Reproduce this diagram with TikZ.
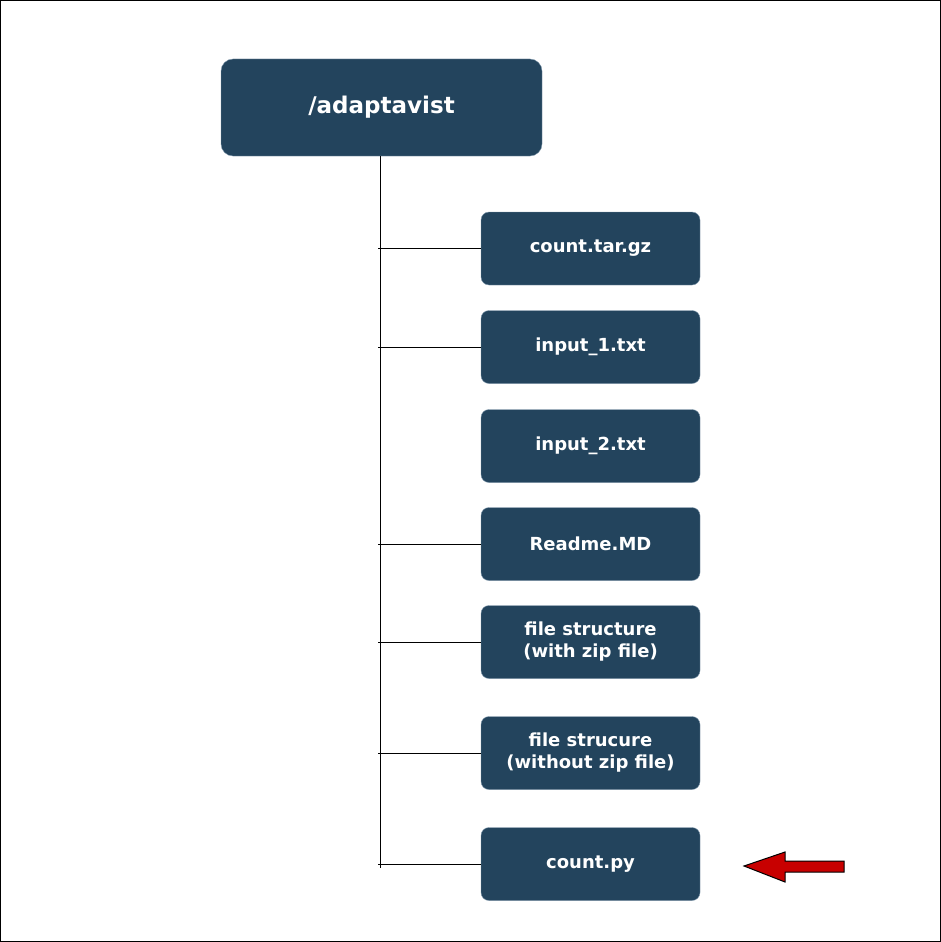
\documentclass[tikz,border=0pt]{standalone}
\usepackage{fontspec}
\setmainfont{DejaVu Sans}
\definecolor{boxblue}{HTML}{23445D}
\definecolor{boxedge}{HTML}{7E97AB}
\definecolor{arrowred}{HTML}{C80000}
\tikzset{
  filebox/.style={draw=boxedge, fill=boxblue, rounded corners=8pt, minimum width=219pt, minimum height=73pt, align=center, text=white, font=\fontsize{18}{22}\selectfont\bfseries, inner sep=0pt},
  rootbox/.style={filebox, rounded corners=12pt, minimum width=321pt, minimum height=97pt, font=\fontsize{23}{27}\selectfont\bfseries},
  branch/.style={draw=black, line width=0.8pt}
}
\begin{document}
\begin{tikzpicture}[x=1pt, y=-1pt]
    % frame
    \draw [line width=0.8pt] (0.5, 0.5) rectangle (940.5, 941.5);
    \useasboundingbox (0, 0) rectangle (941, 942);
    % root folder
    \node [rootbox] (root) at (381.5, 107.5) {/adaptavist};
    % files
    \node [filebox] (tar) at (590.5, 248.5) {count.tar.gz};
    \node [filebox] (inone) at (590.5, 347) {input\_1.txt};
    \node [filebox] (intwo) at (590.5, 446) {input\_2.txt};
    \node [filebox] (readme) at (590.5, 544) {Readme.MD};
    \node [filebox] (withzip) at (590.5, 642) {file structure\\(with zip file)};
    \node [filebox] (nozip) at (590.5, 753) {file strucure\\(without zip file)};
    \node [filebox] (countpy) at (590.5, 864) {count.py};
    % trunk
    \coordinate (trunkend) at (380, 868);
    \draw [branch] (root.south -| trunkend) -- (trunkend);
    % branches
    \foreach \f in {tar, inone, readme, withzip, nozip, countpy}
        \draw [branch] (\f.west -| 378, 0) -- (\f.west);
    % red arrow
    \draw [fill=arrowred, line width=1pt] (744, 866) -- (785, 852) -- (785, 861) -- (844, 861) -- (844, 872) -- (785, 872) -- (785, 882) -- cycle;
\end{tikzpicture}
\end{document}
